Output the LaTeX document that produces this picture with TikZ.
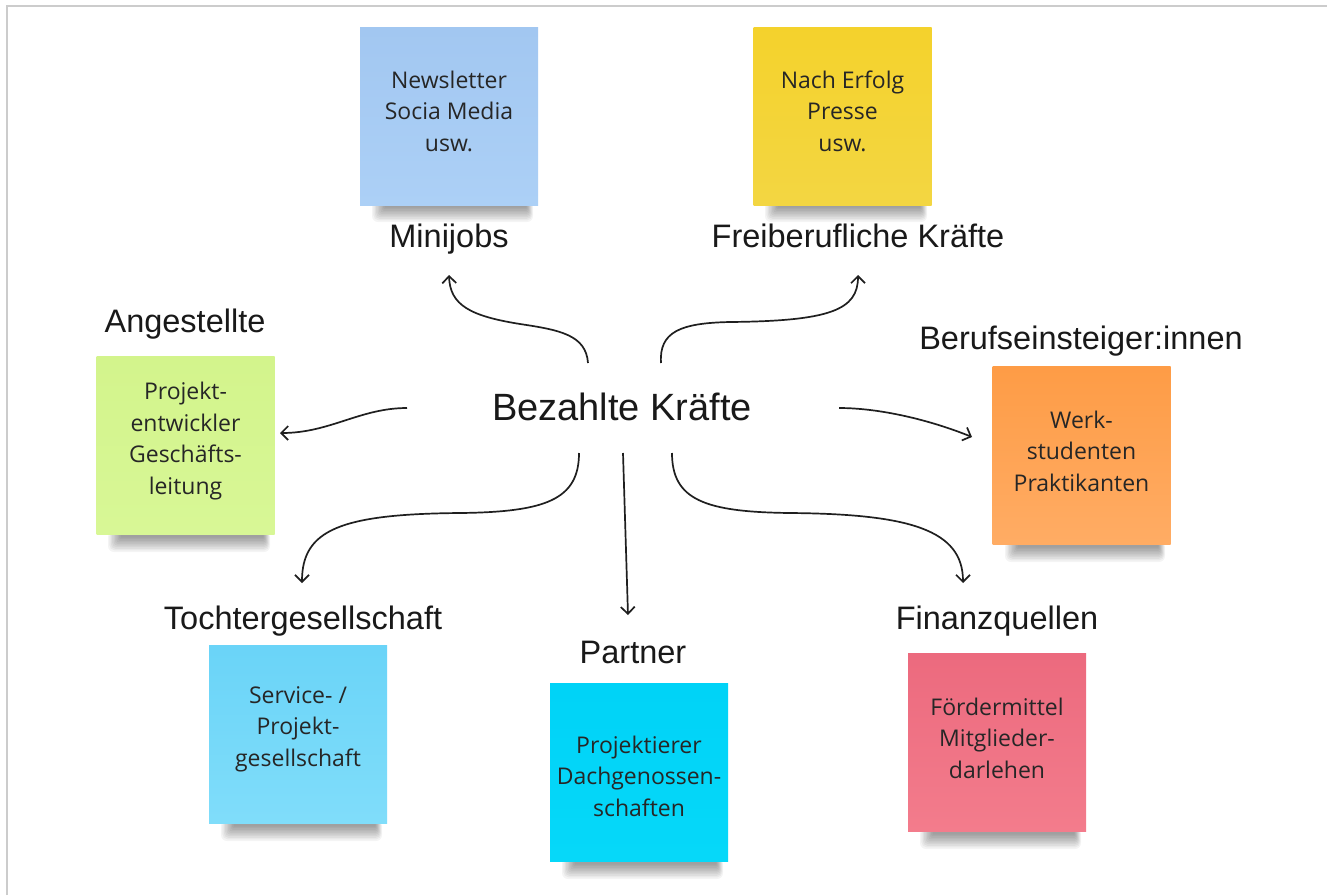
\documentclass[tikz,border=0pt]{standalone}
\usepackage{fontspec}
\setmainfont{Liberation Sans}
\newfontfamily\notefont{Open Sans}
\usetikzlibrary{arrows.meta}
\definecolor{cBlueT}{RGB}{162,199,241}
\definecolor{cBlueB}{RGB}{172,208,246}
\definecolor{cYelT}{RGB}{244,210,44}
\definecolor{cYelB}{RGB}{243,214,66}
\definecolor{cGreT}{RGB}{211,244,140}
\definecolor{cGreB}{RGB}{216,247,150}
\definecolor{cOraT}{RGB}{254,156,70}
\definecolor{cOraB}{RGB}{255,172,100}
\definecolor{cLbT}{RGB}{106,212,248}
\definecolor{cLbB}{RGB}{128,221,250}
\definecolor{cCyT}{RGB}{0,211,247}
\definecolor{cCyB}{RGB}{6,216,249}
\definecolor{cPiT}{RGB}{236,106,126}
\definecolor{cPiB}{RGB}{243,124,140}
\definecolor{frameGray}{RGB}{204,204,204}
\newcommand\mkshadow[3]{%
  \foreach \k in {1,...,10}{%
    \pgfmathsetmacro\rr{0.6*\k}%
    \fill[black,opacity=0.045,rounded corners=\rr pt]
      ({#1+26-1.4*\k},{#3-4}) rectangle ({#2-12+0.7*\k},{#3+1+1.6*\k});
  }}
\begin{document}
\begin{tikzpicture}[x=1pt,y=-1pt,
  note/.style={draw=none, minimum width=178pt, minimum height=178pt, inner sep=0pt, outer sep=0pt},
  notetext/.style={font=\notefont\fontsize{23}{31.5}\selectfont, text=black!85, align=center, inner sep=0pt},
  lbl/.style={font=\fontsize{32.5}{36}\selectfont, text=black!90, inner sep=0pt, text height=23.3pt, text depth=0pt},
  conn/.style={line width=1.7pt, black!88, -{Straight Barb[length=7pt,width=14pt,line width=1.7pt]}}]
\useasboundingbox (0,0) rectangle (1327,895);
\fill[white] (0,0) rectangle (1327,895);
\draw[frameGray, line width=2pt] (7,895) -- (7,6) -- (1327,6);

% shadows
\mkshadow{360}{538}{205}
\mkshadow{753}{932}{205}
\mkshadow{96}{275}{535}
\mkshadow{993}{1170}{545}
\mkshadow{209}{387}{824}
\mkshadow{550}{728}{862}
\mkshadow{908}{1086}{832}

% notes
\node[note, top color=cBlueT, bottom color=cBlueB] (nMini) at (449,116) {};
\node[note, top color=cYelT, bottom color=cYelB] (nFrei) at (842.5,116) {};
\node[note, top color=cGreT, bottom color=cGreB] (nAng) at (185.5,445) {};
\node[note, top color=cOraT, bottom color=cOraB] (nBer) at (1081.5,455.5) {};
\node[note, top color=cLbT, bottom color=cLbB] (nToc) at (298,734.5) {};
\node[note, top color=cCyT, bottom color=cCyB] (nPar) at (639,772.5) {};
\node[note, top color=cPiT, bottom color=cPiB] (nFin) at (997,742) {};

% note texts
\node[notetext] (tMini) at (449,111) {Newsletter\\Socia Media\\usw.};
\node[notetext] (tFrei) at (842.5,111) {Nach Erfolg\\Presse\\usw.};
\node[notetext] (tAng) at (185.5,441) {Projekt-\\entwickler\\Geschäfts-\\leitung};
\node[notetext] (tBer) at (1081.5,451) {Werk-\\studenten\\Praktikanten};
\node[notetext] (tToc) at (298,729) {Service- /\\Projekt-\\gesellschaft};
\node[notetext] (tPar) at (639,776) {Projektierer\\Dachgenossen-\\schaften};
\node[notetext] (tFin) at (997,738) {Fördermittel\\Mitglieder-\\darlehen};

% labels
\node[lbl] (lMini) at (449,235.5) {Minijobs};
\node[lbl] (lFrei) at (858,235.5) {Freiberufliche Kräfte};
\node[lbl] (lAng) at (185,321) {Angestellte};
\node[lbl] (lBer) at (1081,338) {Berufseinsteiger:innen};
\node[lbl] (lToc) at (303,618) {Tochtergesellschaft};
\node[lbl] (lPar) at (633,652) {Partner};
\node[lbl] (lFin) at (997,618) {Finanzquellen};

% centre
\node[font=\fontsize{38}{42}\selectfont, text=black!90, inner sep=0pt, text height=27pt, text depth=0pt] (center) at (622,407) {Bezahlte Kräfte};

% connector endpoints
\coordinate (sMini) at (588,363);
\coordinate (eMini) at (449,275);
\coordinate (sFrei) at (661,363);
\coordinate (eFrei) at (858,275);
\coordinate (sAng) at (407,408);
\coordinate (eAng) at (280,433);
\coordinate (sBer) at (839,408);
\coordinate (eBer) at (972,437);
\coordinate (sToc) at (579,453);
\coordinate (eToc) at (302,583);
\coordinate (sPar) at (623,453);
\coordinate (ePar) at (628,615);
\coordinate (sFin) at (672,453);
\coordinate (eFin) at (963,583);

\draw[conn] (sMini) .. controls (586,335) and (560,330) .. (520,324) .. controls (470,316) and (450,305) .. (eMini);
\draw[conn] (sFrei) .. controls (659,332) and (680,323) .. (730,322) .. controls (830,321) and (858,310) .. (eFrei);
\draw[conn] (sAng) .. controls (360,408) and (330,433) .. (eAng);
\draw[conn] (sBer) .. controls (880,408) and (930,420) .. (eBer);
\draw[conn] (sToc) .. controls (579,500) and (545,512) .. (460,513) .. controls (340,514) and (302,530) .. (eToc);
\draw[conn] (sPar) -- (ePar);
\draw[conn] (sFin) .. controls (672,500) and (705,512) .. (790,513) .. controls (910,514) and (963,530) .. (eFin);
\end{tikzpicture}
\end{document}
